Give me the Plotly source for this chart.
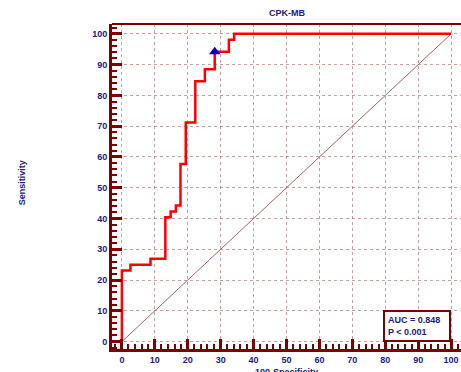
import plotly.graph_objects as go

# ROC step data (100-Specificity, Sensitivity)
fpr = [0, 0, 2.6, 8.7, 13.2, 14.8, 16.4, 17.8, 19.4, 22.3, 25.2, 28.2, 32.5, 34.1, 100]
tpr = [0, 23.1, 25.0, 26.9, 40.4, 42.3, 44.2, 57.7, 71.2, 84.6, 88.5, 94.2, 98.1, 100, 100]
diag_x = [0, 100]
diag_y = [0, 100]
cut_x = [28.2]
cut_y = [94.2]
tick_vals = [0, 10, 20, 30, 40, 50, 60, 70, 80, 90, 100]
title_text = "CPK-MB"
x_title = "100-Specificity"
y_title = "Sensitivity"
auc_text = "AUC = 0.848<br>P < 0.001"

MAROON = "#800000"
NAVY = "#1a1a8c"
FONT = "Liberation Sans, Arial, sans-serif"

fig = go.Figure()
fig.add_trace(go.Scatter(x=diag_x, y=diag_y, mode="lines",
                         line=dict(color="#b06060", width=1), hoverinfo="skip"))
fig.add_trace(go.Scatter(x=fpr, y=tpr, mode="lines", line_shape="hv",
                         line=dict(color="#ff0000", width=2.5)))
fig.add_trace(go.Scatter(x=cut_x, y=cut_y, mode="markers",
                         marker=dict(symbol="triangle-up", size=10, color="#0000cc")))

axis_common = dict(
    showline=True, linecolor=MAROON, linewidth=3,
    ticks="inside", ticklen=10, tickwidth=2.5, tickcolor=MAROON,
    tickvals=tick_vals, ticktext=[str(v) for v in tick_vals],
    tickfont=dict(family=FONT, size=9, color=NAVY, weight="bold"),
    showgrid=True, gridcolor="rgba(160,60,60,0.5)", gridwidth=1, griddash="dot",
    zeroline=False,
    minor=dict(dtick=2, ticks="inside", ticklen=5, tickwidth=1.5,
               tickcolor=MAROON, showgrid=False),
)

fig.update_xaxes(range=[-3, 103], **axis_common)
fig.update_yaxes(range=[-2.4, 103.2], **axis_common)

fig.update_layout(
    width=461, height=372,
    margin=dict(l=112, r=0, t=24, b=23),
    paper_bgcolor="white", plot_bgcolor="white",
    showlegend=False,
    shapes=[dict(type="line", xref="paper", yref="paper", x0=0, x1=1, y0=1, y1=1,
                 line=dict(color=MAROON, width=2))],
    annotations=[
        dict(text="<b>%s</b>" % title_text, x=50, xref="x", y=1, yref="paper",
             yshift=4, yanchor="bottom", showarrow=False,
             font=dict(family=FONT, size=9, color=NAVY)),
        dict(text="<b>%s</b>" % x_title, x=50, xref="x", y=0, yref="paper",
             yshift=-16, yanchor="top", showarrow=False,
             font=dict(family=FONT, size=9, color=NAVY)),
        dict(text="<b>%s</b>" % y_title, x=0, xref="paper", xshift=-97,
             y=0.51, yref="paper", textangle=-90, showarrow=False,
             font=dict(family=FONT, size=9, color=NAVY)),
        dict(text="<b>%s</b>" % auc_text, x=100, xref="x", y=0, yref="y",
             xanchor="right", yanchor="bottom", align="left", showarrow=False,
             bordercolor=MAROON, borderwidth=2, borderpad=3, bgcolor="white",
             width=58,
             font=dict(family=FONT, size=9, color=NAVY)),
    ],
)

fig.write_html("out.html", config={"displayModeBar": False},
               post_script="document.body.style.margin='0';document.body.style.overflow='hidden';")
